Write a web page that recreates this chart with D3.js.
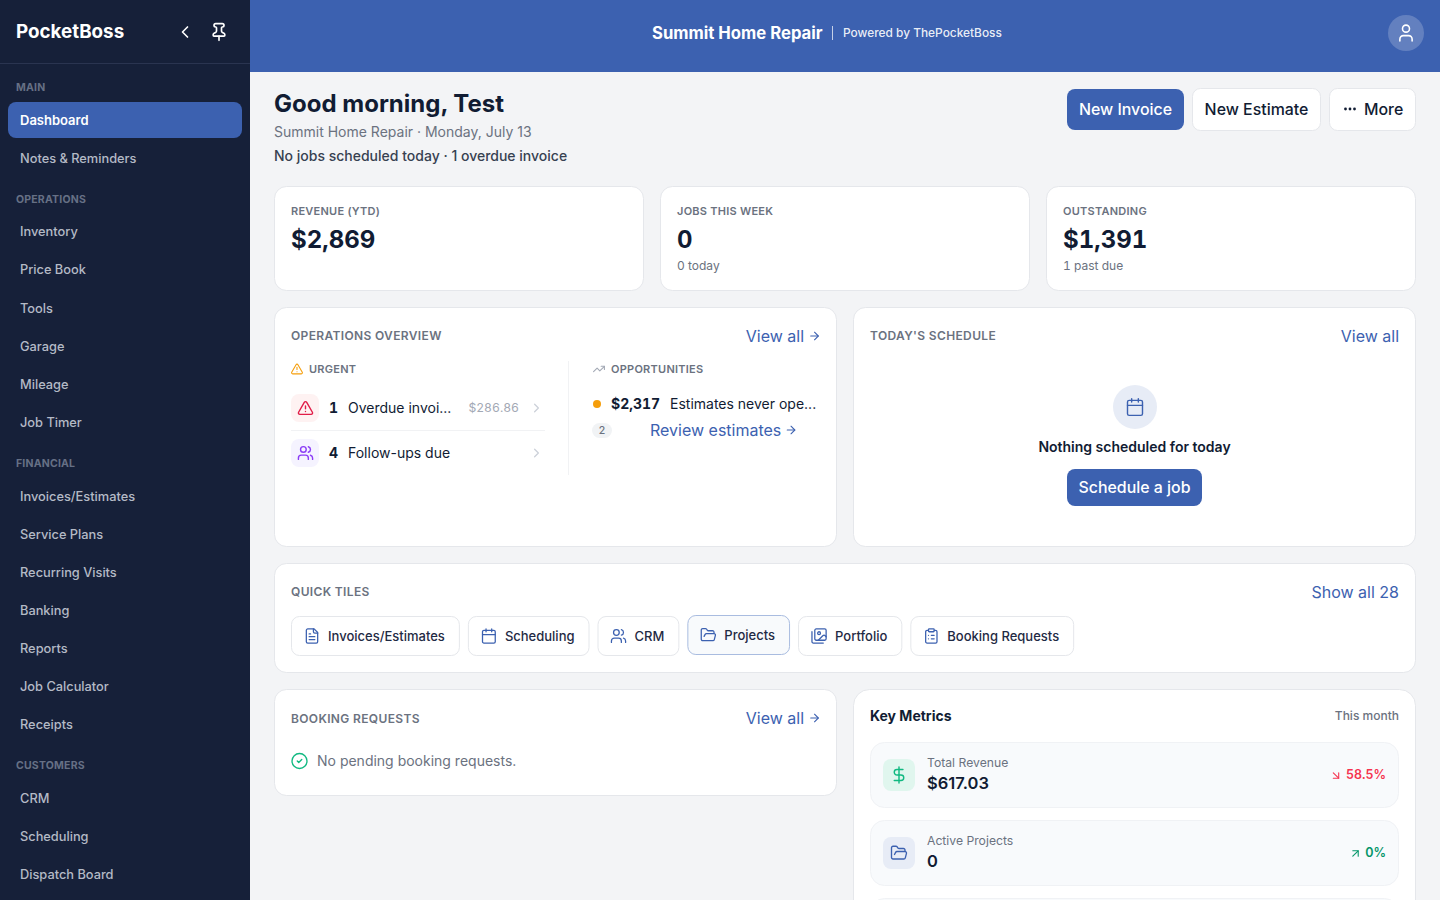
<!DOCTYPE html>
<html>
<head>
<meta charset="utf-8">
<title>Summit Home Repair</title>
<script src="https://cdn.jsdelivr.net/npm/d3@7"></script>
<style>
  html, body { margin: 0; padding: 0; background: #f3f4f6; overflow: hidden; }
  svg { display: block; }
  text { font-family: Inter, "Noto Sans", sans-serif; dominant-baseline: central; }
  text.tnum { font-variant-numeric: tabular-nums; }
</style>
</head>
<body>
<svg id="page" width="1440" height="900"></svg>
<script>
// page content
var navSections = ['MAIN', 'OPERATIONS', 'FINANCIAL', 'CUSTOMERS'];
var navItems = [
    ['Dashboard', 'Notes & Reminders'],
    ['Inventory', 'Price Book', 'Tools', 'Garage', 'Mileage', 'Job Timer'],
    ['Invoices/Estimates', 'Service Plans', 'Recurring Visits', 'Banking', 'Reports', 'Job Calculator', 'Receipts'],
    ['CRM', 'Scheduling', 'Dispatch Board']
];
var kpiLabels = ['REVENUE (YTD)', 'JOBS THIS WEEK', 'OUTSTANDING'];
var kpiValues = ['$2,869', '0', '$1,391'];
var kpiNotes = ['', '0 today', '1 past due'];
var tileLabels = ['Invoices/Estimates', 'Scheduling', 'CRM', 'Projects', 'Portfolio', 'Booking Requests'];
var tileIcons = ['file', 'calendar', 'users', 'folder', 'images', 'clipboard'];
var metricLabels = ['Total Revenue', 'Active Projects'];
var metricValues = ['$617.03', '0'];
var metricChanges = ['58.5%', '0%'];

var colors = {
    navy: '#162039', blue: '#3c61b0', ink: '#111c33', slate: '#6b7280', border: '#e5e7eb',
    red: '#f5334f', green: '#059669', amber: '#f59e0b'
};

var icons = {
    chevronLeft: ['m15 18-6-6 6-6'],
    chevronRight: ['m9 18 6-6-6-6'],
    pin: ['M12 17v5', 'M9 10.76a2 2 0 0 1-1.11 1.79l-1.78.9A2 2 0 0 0 5 15.24V16a1 1 0 0 0 1 1h12a1 1 0 0 0 1-1v-.76a2 2 0 0 0-1.11-1.79l-1.78-.9A2 2 0 0 1 15 10.76V7a1 1 0 0 1 1-1 2 2 0 0 0 0-4H8a2 2 0 0 0 0 4 1 1 0 0 1 1 1z'],
    user: ['M19 21v-2a4 4 0 0 0-4-4H9a4 4 0 0 0-4 4v2', 'M16 7a4 4 0 1 1-8 0 4 4 0 0 1 8 0'],
    alert: ['m21.73 18-8-14a2 2 0 0 0-3.48 0l-8 14A2 2 0 0 0 4 21h16a2 2 0 0 0 1.73-3', 'M12 9v4', 'M12 17h.01'],
    users: ['M16 21v-2a4 4 0 0 0-4-4H6a4 4 0 0 0-4 4v2', 'M13 7a4 4 0 1 1-8 0 4 4 0 0 1 8 0', 'M22 21v-2a4 4 0 0 0-3-3.87', 'M16 3.13a4 4 0 0 1 0 7.75'],
    trending: ['M22 7 13.5 15.5 8.5 10.5 2 17', 'M16 7h6v6'],
    arrowRight: ['M5 12h14', 'm12 5 7 7-7 7'],
    calendar: ['M8 2v4', 'M16 2v4', 'M5 4h14a2 2 0 0 1 2 2v14a2 2 0 0 1-2 2H5a2 2 0 0 1-2-2V6a2 2 0 0 1 2-2z', 'M3 10h18'],
    file: ['M15 2H6a2 2 0 0 0-2 2v16a2 2 0 0 0 2 2h12a2 2 0 0 0 2-2V7Z', 'M14 2v4a2 2 0 0 0 2 2h4', 'M10 9H8', 'M16 13H8', 'M16 17H8'],
    folder: ['m6 14 1.5-2.9A2 2 0 0 1 9.24 10H20a2 2 0 0 1 1.94 2.5l-1.54 6a2 2 0 0 1-1.95 1.5H4a2 2 0 0 1-2-2V5a2 2 0 0 1 2-2h3.9a2 2 0 0 1 1.69.9l.81 1.2a2 2 0 0 0 1.67.9H18a2 2 0 0 1 2 2v2'],
    images: ['M18 22H4a2 2 0 0 1-2-2V6', 'm22 13-1.296-1.296a2.41 2.41 0 0 0-3.408 0L11 18', 'M14 8a2 2 0 1 1-4 0 2 2 0 0 1 4 0', 'M8 2h12a2 2 0 0 1 2 2v12a2 2 0 0 1-2 2H8a2 2 0 0 1-2-2V4a2 2 0 0 1 2-2z'],
    clipboard: ['M9 2h6a1 1 0 0 1 1 1v2a1 1 0 0 1-1 1H9a1 1 0 0 1-1-1V3a1 1 0 0 1 1-1z', 'M16 4h2a2 2 0 0 1 2 2v14a2 2 0 0 1-2 2H6a2 2 0 0 1-2-2V6a2 2 0 0 1 2-2h2', 'M12 11h4', 'M12 16h4', 'M8 11h.01', 'M8 16h.01'],
    check: ['M22 12a10 10 0 1 1-20 0 10 10 0 0 1 20 0', 'm9 12 2 2 4-4'],
    dollar: ['M12 2v20', 'M17 5H9.5a3.5 3.5 0 0 0 0 7h5a3.5 3.5 0 0 1 0 7H6'],
    arrowDownRight: ['m7 7 10 10', 'M17 7v10H7'],
    arrowUpRight: ['M7 7h10v10', 'M7 17 17 7']
};

var svg = d3.select('#page');

function label(parent, x, y, str, size, weight, fill, opts) {
    opts = opts || {};
    return parent.append('text')
        .attr('class', opts.tnum ? 'tnum' : null)
        .attr('x', x).attr('y', y)
        .attr('font-size', size).attr('font-weight', weight)
        .attr('fill', fill)
        .attr('text-anchor', opts.anchor || 'start')
        .attr('letter-spacing', opts.spacing || null)
        .text(str);
}

function box(parent, x, y, w, h, r, fill, stroke) {
    return parent.append('rect')
        .attr('x', x + (stroke ? 0.5 : 0)).attr('y', y + (stroke ? 0.5 : 0))
        .attr('width', w - (stroke ? 1 : 0)).attr('height', h - (stroke ? 1 : 0))
        .attr('rx', r)
        .attr('fill', fill)
        .attr('stroke', stroke || 'none');
}

// cx, cy is the icon centre, size its drawn width
function icon(parent, name, cx, cy, size, stroke, width) {
    var g = parent.append('g')
        .attr('transform', 'translate(' + (cx - size / 2) + ',' + (cy - size / 2) + ') scale(' + size / 24 + ')')
        .attr('fill', 'none').attr('stroke', stroke)
        .attr('stroke-width', width || 2)
        .attr('stroke-linecap', 'round').attr('stroke-linejoin', 'round');
    g.selectAll('path').data(icons[name]).enter().append('path').attr('d', function (d) { return d; });
    return g;
}

function card(x, y, w, h, r) {
    return box(svg, x, y, w, h, r || 12, '#fff', colors.border);
}

function viewAll(x, y, str, withArrow) {
    var right = withArrow ? x - 16 : x;
    label(svg, right, y, str, 16, 400, colors.blue, { anchor: 'end' });
    if (withArrow) icon(svg, 'arrowRight', x - 5.5, y + 0.5, 13, colors.blue);
}

function cardTitle(x, y, str) {
    label(svg, x, y, str, 12, 600, colors.slate, { spacing: 0.35 });
}

function drawSidebar() {
    var side = svg.append('g');
    box(side, 0, 0, 250, 900, 0, colors.navy);
    label(side, 16, 31.5, 'PocketBoss', 18.8, 700, '#fff');
    icon(side, 'chevronLeft', 185, 32, 20, '#fff');
    icon(side, 'pin', 219, 32, 20, '#fff');
    side.append('line').attr('x1', 0).attr('x2', 250).attr('y1', 63.5).attr('y2', 63.5)
        .attr('stroke', '#2a3450');

    var y = 87.4;
    navSections.forEach(function (section, s) {
        label(side, 16, y, section, 10.5, 700, '#667085', { spacing: 0.2 });
        y += 32.65;
        navItems[s].forEach(function (item, i) {
            var active = s === 0 && i === 0;
            if (active) box(side, 8, Math.round(y) - 18, 234, 36, 8, colors.blue);
            label(side, 20, y, item, active ? 13 : 12.8, active ? 600 : 500, active ? '#fff' : '#b4bac6');
            if (i < navItems[s].length - 1) y += 38.11;
        });
        y += 41;
    });
}

function drawHeader() {
    box(svg, 250, 0, 1190, 72, 0, colors.blue);
    label(svg, 652, 33, 'Summit Home Repair', 16.7, 700, '#fff');
    svg.append('line').attr('x1', 832.5).attr('x2', 832.5).attr('y1', 26).attr('y2', 40)
        .attr('stroke', 'rgba(255,255,255,0.7)');
    label(svg, 843, 32.5, 'Powered by ThePocketBoss', 11.9, 500, 'rgba(255,255,255,0.9)');
    svg.append('circle').attr('cx', 1406).attr('cy', 33).attr('r', 18).attr('fill', 'rgba(255,255,255,0.2)');
    icon(svg, 'user', 1406, 33, 21, '#fff', 1.8);
}

function drawGreeting() {
    label(svg, 274, 103, 'Good morning, Test', 24, 700, colors.ink);
    label(svg, 274, 131, 'Summit Home Repair \u00b7 Monday, July 13', 14, 400, colors.slate);
    label(svg, 274, 155, 'No jobs scheduled today \u00b7 1 overdue invoice', 14, 500, '#374151');

    box(svg, 1067, 89, 117, 41, 8, colors.blue);
    label(svg, 1125.5, 109.2, 'New Invoice', 15.9, 500, '#fff', { anchor: 'middle' });
    box(svg, 1192, 88, 129, 43, 8, '#fff', colors.border);
    label(svg, 1256.5, 109.2, 'New Estimate', 15.9, 500, colors.ink, { anchor: 'middle' });
    box(svg, 1329, 88, 87, 43, 8, '#fff', colors.border);
    [1345.5, 1350, 1354.5].forEach(function (cx) {
        svg.append('circle').attr('cx', cx).attr('cy', 109).attr('r', 1.4).attr('fill', colors.ink);
    });
    label(svg, 1364, 109.2, 'More', 15.9, 500, colors.ink);
}

function drawKpis() {
    var x = d3.scaleBand().domain(kpiLabels).range([274, 1416]).paddingInner(16 / 386);
    kpiLabels.forEach(function (name, i) {
        card(x(name), 186, x.bandwidth(), 105);
        label(svg, x(name) + 17, 211, name, 11, 600, colors.slate, { spacing: 0.25 });
        label(svg, x(name) + 17, 239, kpiValues[i], 24, 700, colors.ink, { tnum: true });
        label(svg, x(name) + 17, 265.5, kpiNotes[i], 12, 400, colors.slate, { tnum: true });
    });
}

function drawOperations() {
    card(274, 307, 563, 240);
    cardTitle(291, 335, 'OPERATIONS OVERVIEW');
    viewAll(820, 335.5, 'View all', true);

    icon(svg, 'alert', 297, 369, 13, colors.amber);
    label(svg, 309, 368.5, 'URGENT', 11, 600, colors.slate, { spacing: 0.25 });

    box(svg, 291, 394, 28, 28, 8, '#fef2f2');
    icon(svg, 'alert', 305.5, 408, 17, '#e11d48');
    label(svg, 329, 407.3, '1', 14, 700, colors.ink, { tnum: true });
    label(svg, 348, 407.3, 'Overdue invoi...', 14, 400, colors.ink);
    label(svg, 519, 407.3, '$286.86', 12.2, 400, '#a3a9b5', { anchor: 'end', tnum: true });
    icon(svg, 'chevronRight', 536.5, 408, 15, '#ccd1d9');

    svg.append('line').attr('x1', 291).attr('x2', 545).attr('y1', 430.5).attr('y2', 430.5)
        .attr('stroke', '#f1f2f4');

    box(svg, 291, 439, 28, 28, 8, '#f5f3ff');
    icon(svg, 'users', 305.5, 453, 17, '#8b3cf6');
    label(svg, 329, 452.3, '4', 14, 700, colors.ink, { tnum: true });
    label(svg, 348, 452.3, 'Follow-ups due', 14, 400, colors.ink);
    icon(svg, 'chevronRight', 536.5, 453, 15, '#ccd1d9');

    svg.append('line').attr('x1', 568.5).attr('x2', 568.5).attr('y1', 361).attr('y2', 475)
        .attr('stroke', '#f1f2f4');

    icon(svg, 'trending', 599, 369, 13, '#a3a9b5');
    label(svg, 611, 368.5, 'OPPORTUNITIES', 11, 600, colors.slate, { spacing: 0.25 });

    svg.append('circle').attr('cx', 597).attr('cy', 404).attr('r', 4).attr('fill', '#f59e0b');
    label(svg, 611, 403.3, '$2,317', 14, 700, colors.ink, { tnum: true });
    label(svg, 670, 403.3, 'Estimates never ope...', 14, 400, colors.ink);
    box(svg, 592, 423, 20, 15, 7.5, '#f1f3f5');
    label(svg, 602, 430, '2', 10.5, 500, colors.slate, { anchor: 'middle' });
    label(svg, 650, 429.8, 'Review estimates', 16, 400, colors.blue);
    icon(svg, 'arrowRight', 791, 430, 13, colors.blue);
}

function drawSchedule() {
    card(853, 307, 563, 240);
    cardTitle(870, 335, "TODAY'S SCHEDULE");
    viewAll(1399, 335.5, 'View all', false);

    svg.append('circle').attr('cx', 1135).attr('cy', 407).attr('r', 22).attr('fill', '#e7ecf6');
    icon(svg, 'calendar', 1135, 407, 20, colors.blue, 1.7);
    label(svg, 1134.5, 446.3, 'Nothing scheduled for today', 14, 600, colors.ink, { anchor: 'middle' });
    box(svg, 1067, 469, 135, 37, 8, colors.blue);
    label(svg, 1134.5, 487.2, 'Schedule a job', 15.9, 500, '#fff', { anchor: 'middle' });
}

function drawTiles() {
    card(274, 563, 1142, 110);
    cardTitle(291, 591, 'QUICK TILES');
    viewAll(1399, 591.5, 'Show all 28', false);

    var x = 291;
    tileLabels.forEach(function (name, i) {
        var hover = name === 'Projects';
        var top = hover ? 615 : 616;
        var g = svg.append('g');
        var rect = box(g, x, top, 100, 40, 8, hover ? '#f8fafc' : '#fff', hover ? '#a9bce0' : colors.border);
        var t = label(g, x + 37, top + 19.8, name, 13, 500, '#1f2a44');
        var w = 37 + t.node().getComputedTextLength() + 15;
        rect.attr('width', w - 1);
        icon(g, tileIcons[i], x + 21, top + 20, 17, colors.blue, 1.8);
        x += w + 8;
    });
}

function drawBooking() {
    card(274, 689, 563, 107);
    cardTitle(291, 718, 'BOOKING REQUESTS');
    viewAll(820, 717.5, 'View all', true);
    icon(svg, 'check', 299.5, 761, 18, '#10b981', 1.8);
    label(svg, 317, 760.3, 'No pending booking requests.', 14, 400, colors.slate);
}

function drawMetrics() {
    box(svg, 853, 689, 563, 240, 16, '#fff', colors.border);
    label(svg, 870, 715.3, 'Key Metrics', 14, 700, colors.ink);
    label(svg, 1399, 715.3, 'This month', 12, 500, colors.slate, { anchor: 'end' });

    var y = d3.scaleBand().domain(metricLabels.concat(['next'])).range([742, 742 + 66 * 3 + 12 * 2]).paddingInner(12 / 78);
    metricLabels.forEach(function (name, i) {
        var top = y(name);
        var down = i === 0;
        box(svg, 870, top, 529, 66, 14, '#f8fafc', '#f0f2f5');
        box(svg, 883, top + 17, 32, 32, 8, down ? '#e0f6ee' : '#e7ecf6');
        if (down) icon(svg, 'dollar', 899, top + 33, 19, '#10b981', 1.8);
        else icon(svg, 'folder', 899, top + 33, 18, colors.blue, 1.8);
        label(svg, 927, top + 20.3, name, 12.2, 400, colors.slate);
        label(svg, 927, top + 41, metricValues[i], 16.5, 600, colors.ink);
        var c = down ? colors.red : colors.green;
        label(svg, 1386, top + 32.6, metricChanges[i], 12.5, 600, c, { anchor: 'end' });
        icon(svg, down ? 'arrowDownRight' : 'arrowUpRight', down ? 1336 : 1355.5, top + 33.5, 13, c);
    });
    box(svg, 870, y('next'), 529, 66, 14, '#f8fafc', '#f0f2f5');
}

drawHeader();
drawSidebar();
drawGreeting();
drawKpis();
drawOperations();
drawSchedule();
drawTiles();
drawBooking();
drawMetrics();
</script>
</body>
</html>
